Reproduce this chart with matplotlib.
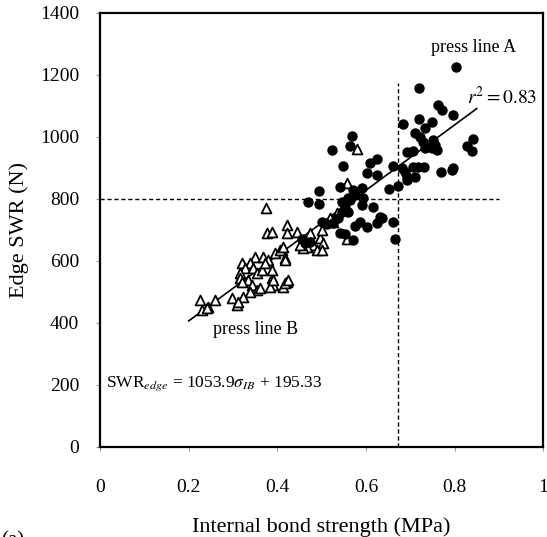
import matplotlib.pyplot as plt
import numpy as np

plt.rcParams['font.family'] = ['Liberation Serif', 'DejaVu Serif']
plt.rcParams['mathtext.fontset'] = 'stix'

# press line A (filled circles)
ib_a = [0.804, 0.72, 0.763, 0.772, 0.797, 0.684, 0.72, 0.749, 0.734, 0.711,
        0.722, 0.729, 0.752, 0.756, 0.749, 0.761, 0.734, 0.842, 0.828, 0.84,
        0.693, 0.707, 0.682, 0.707, 0.718, 0.731, 0.77, 0.797, 0.693, 0.711,
        0.795, 0.652, 0.673, 0.637, 0.661, 0.666, 0.569, 0.564, 0.523, 0.548,
        0.609, 0.625, 0.602, 0.625, 0.661, 0.688, 0.693, 0.542, 0.571, 0.591,
        0.576, 0.56, 0.546, 0.553, 0.591, 0.616, 0.495, 0.47, 0.494, 0.564,
        0.594, 0.546, 0.56, 0.632, 0.625, 0.603, 0.587, 0.576, 0.501, 0.512,
        0.526, 0.537, 0.542, 0.553, 0.571, 0.456, 0.463, 0.474]
swr_a = [1226, 1158, 1103, 1087, 1071, 1042, 1058, 1048, 1029, 1013,
         1000, 984, 990, 974, 965, 958, 965, 994, 971, 955,
         952, 955, 900, 903, 903, 903, 887, 900, 871, 871,
         894, 832, 842, 739, 726, 671, 1003, 971, 958, 906,
         916, 929, 884, 877, 906, 887, 861, 839, 829, 835,
         813, 803, 790, 774, 781, 774, 826, 790, 784, 797,
         803, 758, 758, 742, 723, 710, 726, 713, 726, 719,
         723, 739, 690, 687, 668, 671, 658, 661]

# press line B (open triangles)
ib_b = [0.557, 0.58, 0.375, 0.377, 0.388, 0.422, 0.422, 0.445, 0.474, 0.519,
        0.526, 0.497, 0.503, 0.481, 0.49, 0.467, 0.458, 0.501, 0.557, 0.411,
        0.418, 0.422, 0.413, 0.451, 0.35, 0.368, 0.379, 0.395, 0.406, 0.413,
        0.321, 0.339, 0.327, 0.345, 0.316, 0.354, 0.366, 0.372, 0.418, 0.334,
        0.343, 0.354, 0.361, 0.339, 0.316, 0.321, 0.388, 0.39, 0.384, 0.418,
        0.424, 0.298, 0.309, 0.323, 0.312, 0.226, 0.23, 0.244, 0.26, 0.242,
        0.388, 0.39, 0.535, 0.5]
swr_b = [852, 961, 771, 690, 694, 716, 690, 694, 690, 739,
         726, 674, 658, 652, 635, 645, 642, 635, 671, 635,
         610, 532, 516, 652, 613, 613, 603, 626, 635, 645,
         594, 594, 577, 577, 561, 561, 571, 594, 603, 539,
         523, 506, 513, 500, 545, 532, 545, 523, 516, 529,
         539, 481, 458, 484, 468, 474, 442, 452, 474, 448,
         571, 539, 755, 700]

slope, intercept = 1053.9, 195.33
fit_x = np.array([0.2, 0.85])

fig = plt.figure(figsize=(5.47, 5.37), dpi=100)
ax = fig.add_axes([0.183, 0.168, 0.81, 0.808])

ax.plot([0, 0.9], [800, 800], color='black', linestyle=(0, (3, 2)), lw=1)
ax.plot([0.673, 0.673], [0, 1175], color='black', linestyle=(0, (3, 2)), lw=1)
ax.plot(fit_x, slope * fit_x + intercept, color='black', lw=1.2)

ax.scatter(ib_b, swr_b, marker='^', s=50, facecolors='white',
           edgecolors='black', linewidths=1.3, zorder=3)
ax.scatter(ib_a, swr_a, marker='o', s=42, color='black', zorder=4)

ax.text(0.842, 1287, 'press line A', ha='center', va='center', fontsize=13)
ax.text(0.35, 377, 'press line B', ha='center', va='center', fontsize=13)
ax.text(0.908, 1129, r'$r^2 = 0.83$', ha='center', va='center', fontsize=14)
ax.text(0.014, 203, r'SWR$_{edge}$ = 1053.9$\sigma_{IB}$ + 195.33',
        ha='left', va='center', fontsize=12.5)

ax.set_xlim(0, 1)
ax.set_ylim(0, 1400)
ax.set_xticks([0, 0.2, 0.4, 0.6, 0.8, 1])
ax.set_xticklabels(['0', '0.2', '0.4', '0.6', '0.8', '1'])
ax.set_yticks(range(0, 1401, 200))
ax.tick_params(axis='x', length=3, color='0.6', pad=20, labelsize=14)
ax.tick_params(axis='y', length=3, color='0.6', pad=12, labelsize=14)
for s in ax.spines.values():
    s.set_linewidth(1.6)

ax.set_xlabel('Internal bond strength (MPa)', fontsize=16, va='center')
ax.set_ylabel('Edge SWR (N)', fontsize=16, va='center')
ax.xaxis.set_label_coords(0.5, -0.186)
ax.yaxis.set_label_coords(-0.183, 0.5)

fig.text(0.002, -0.008, '(a)', fontsize=15, ha='left', va='center')

fig.savefig('out.png', dpi=100)
